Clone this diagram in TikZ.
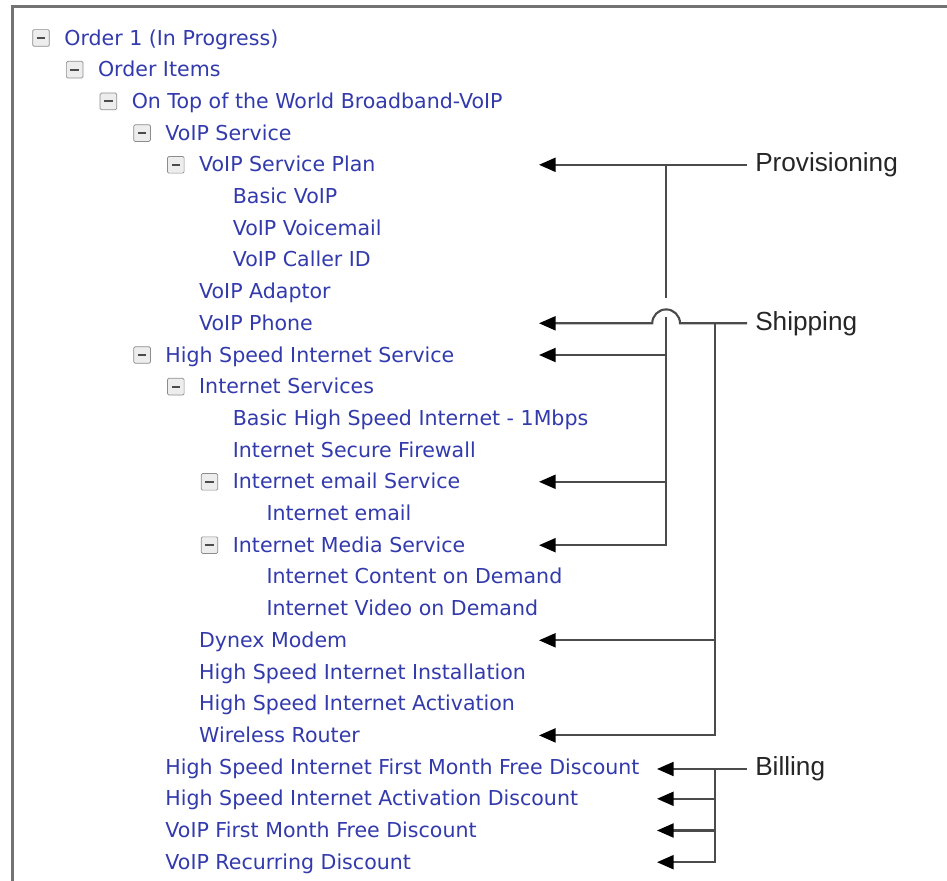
\documentclass[tikz,border=0pt]{standalone}
\usepackage{fontspec}
\newfontfamily\treefont{DejaVu Sans}
\newfontfamily\labfont{Liberation Sans}
\usepackage{tikz}
\usetikzlibrary{arrows.meta,positioning,calc}
\definecolor{treeblue}{RGB}{50,58,172}
\definecolor{wire}{RGB}{75,75,75}
\tikzset{item/.style={anchor=west, inner sep=0, text height=10pt, text depth=2pt, text=treeblue, font=\treefont\fontsize{11.7}{14}\selectfont}}
\tikzset{tog/.style={draw=black!45, fill=black!7, rounded corners=0.8pt, minimum size=9.5pt, inner sep=0,
		path picture={\draw[black!70, line width=1.2pt] ([xshift=-2.4pt]path picture bounding box.center) -- ([xshift=2.4pt]path picture bounding box.center);}}}
\tikzset{lab/.style={anchor=west, inner sep=4.5pt, text=black!85, font=\labfont\fontsize{14.9}{17}\selectfont}}
\tikzset{wireline/.style={draw=wire, line width=1.2pt}}
\tikzset{arr/.style={wireline, -{Triangle[length=9.5pt, width=8pt, color=black]}}}

\begin{document}
\begin{tikzpicture}[x=0.02cm, y=-0.02cm]
	\useasboundingbox (0,0) rectangle (947,881);
	\draw[black!55, line width=1.7pt] (12.5,881) -- (12.5,6.5) -- (947,6.5);

	% tree
	\node[tog] (t-order) at (41,38) {};
	\node[item] (order) at (64,38) {Order 1 (In Progress)};
	\node[tog] (t-items) at (74.7,69.7) {};
	\node[item] (items) at (97.7,69.7) {Order Items};
	\node[tog] (t-bundle) at (108.4,101.4) {};
	\node[item] (bundle) at (131.4,101.4) {On Top of the World Broadband-VoIP};
	\node[tog] (t-voip) at (142.1,133.1) {};
	\node[item] (voip) at (165.1,133.1) {VoIP Service};
	\node[tog] (t-plan) at (175.8,164.8) {};
	\node[item] (plan) at (198.8,164.8) {VoIP Service Plan};
	\node[item] (basic) at (232.5,196.5) {Basic VoIP};
	\node[item] (vmail) at (232.5,228.2) {VoIP Voicemail};
	\node[item] (callerid) at (232.5,259.9) {VoIP Caller ID};
	\node[item] (adaptor) at (198.8,291.6) {VoIP Adaptor};
	\node[item] (phone) at (198.8,323.3) {VoIP Phone};
	\node[tog] (t-hsis) at (142.1,355) {};
	\node[item] (hsis) at (165.1,355) {High Speed Internet Service};
	\node[tog] (t-isvc) at (175.8,386.7) {};
	\node[item] (isvc) at (198.8,386.7) {Internet Services};
	\node[item] (hsi) at (232.5,418.4) {Basic High Speed Internet - 1Mbps};
	\node[item] (firewall) at (232.5,450.1) {Internet Secure Firewall};
	\node[tog] (t-email) at (209.5,481.8) {};
	\node[item] (email) at (232.5,481.8) {Internet email Service};
	\node[item] (emailitem) at (266.2,513.5) {Internet email};
	\node[tog] (t-media) at (209.5,545.2) {};
	\node[item] (media) at (232.5,545.2) {Internet Media Service};
	\node[item] (cod) at (266.2,576.9) {Internet Content on Demand};
	\node[item] (vod) at (266.2,608.6) {Internet Video on Demand};
	\node[item] (dynex) at (198.8,640.3) {Dynex Modem};
	\node[item] (install) at (198.8,672) {High Speed Internet Installation};
	\node[item] (activ) at (198.8,703.7) {High Speed Internet Activation};
	\node[item] (router) at (198.8,735.4) {Wireless Router};
	\node[item] (disc1) at (165.1,767.1) {High Speed Internet First Month Free Discount};
	\node[item] (disc2) at (165.1,798.8) {High Speed Internet Activation Discount};
	\node[item] (disc3) at (165.1,830.5) {VoIP First Month Free Discount};
	\node[item] (disc4) at (165.1,862.2) {VoIP Recurring Discount};

	% labels
	\node[lab] (prov) at (747,164.8) {Provisioning};
	\node[lab] (ship) at (747,323.3) {Shipping};
	\node[lab] (bill) at (747,769) {Billing};

	\coordinate (tipa) at (539,0);
	\coordinate (tipb) at (657,0);
	\coordinate (pvj) at (666,164.8);
	\coordinate (shj) at (715,323.3);

	% provisioning
	\draw[arr] (prov.west) -- (plan -| tipa);
	\draw[wireline] (pvj) -- (666,298);
	\draw[arr] (666,317) -- (pvj |- media) -- (media -| tipa);
	\draw[arr] (pvj |- hsis) -- (hsis -| tipa);
	\draw[arr] (pvj |- email) -- (email -| tipa);

	% shipping
	\draw[arr] (ship.west) -- (680,323.3) arc (0:180:7.9pt) -- (phone -| tipa);
	\draw[arr] (shj) -- (shj |- router) -- (router -| tipa);
	\draw[arr] (shj |- dynex) -- (dynex -| tipa);

	% billing
	\draw[arr] (bill.west) -- (bill.west -| tipb);
	\draw[arr] (shj |- bill.west) -- (shj |- disc4) -- (disc4 -| tipb);
	\draw[arr] (shj |- disc2) -- (disc2 -| tipb);
	\draw[arr] (shj |- disc3) -- (disc3 -| tipb);
\end{tikzpicture}
\end{document}
